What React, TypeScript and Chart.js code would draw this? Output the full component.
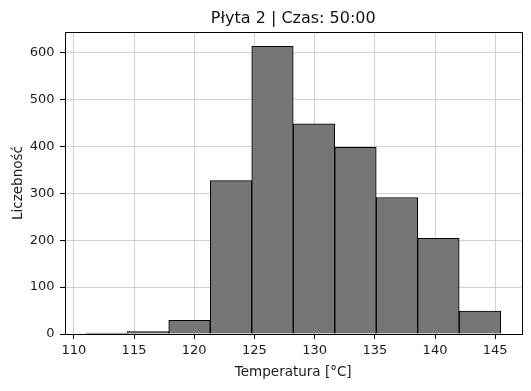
import React, { useEffect, useRef } from "react";
import { Chart, registerables } from "chart.js";

Chart.register(...registerables);

const titleText = "Płyta 2 | Czas: 50:00";
const xLabel = "Temperatura [°C]";
const yLabel = "Liczebność";
const binEdges = [110.99, 114.44, 117.88, 121.33, 124.78, 128.22, 131.67, 135.12, 138.56, 142.01, 145.46];
const counts = [2, 5, 29, 327, 613, 448, 398, 291, 204, 49];
const xTicks = [110, 115, 120, 125, 130, 135, 140, 145];
const yTicks = [0, 100, 200, 300, 400, 500, 600];

const FONT = "'DejaVu Sans', sans-serif";

const framePlugin = {
  id: "frame",
  afterDraw(chart: any) {
    const { ctx, chartArea } = chart;
    ctx.save();
    ctx.strokeStyle = "#000";
    ctx.lineWidth = 1;
    ctx.strokeRect(
      Math.round(chartArea.left) + 0.5,
      Math.round(chartArea.top) + 0.5,
      Math.round(chartArea.right - chartArea.left),
      Math.round(chartArea.bottom - chartArea.top)
    );
    ctx.fillStyle = "#111";
    ctx.font = `16px ${FONT}`;
    ctx.textAlign = "center";
    ctx.textBaseline = "middle";
    ctx.fillText(titleText, (chartArea.left + chartArea.right) / 2, 18.5);
    ctx.restore();
  },
};

export default function App() {
  const ref = useRef<HTMLCanvasElement>(null);
  useEffect(() => {
    const lo = binEdges[0];
    const hi = binEdges[binEdges.length - 1];
    const span = hi - lo;
    const yMax = Math.max(...counts) * 1.05;
    const data = counts.map((c, i) => ({ x: (binEdges[i] + binEdges[i + 1]) / 2, y: c }));
    const chart = new Chart(ref.current as HTMLCanvasElement, {
      type: "bar",
      data: {
        datasets: [
          {
            data: data as any,
            backgroundColor: "rgb(117,119,117)",
            borderColor: "#000",
            borderWidth: 1,
            barPercentage: 1,
            categoryPercentage: 1,
          },
        ],
      },
      options: {
        animation: false,
        responsive: false,
        layout: { padding: { left: 0, right: 9.5, top: 32, bottom: 0 } },
        plugins: {
          legend: { display: false },
          tooltip: { enabled: false },
          title: { display: false },
        },
        scales: {
          x: {
            type: "linear",
            offset: false,
            min: lo - span * 0.05,
            max: hi + span * 0.05,
            afterBuildTicks: (axis: any) => {
              axis.ticks = xTicks.map((v) => ({ value: v }));
            },
            afterFit: (scale: any) => {
              scale.height = 57;
            },
            grid: {
              offset: false,
              color: "#d2d2d2",
              tickColor: "#000",
              tickLength: 5,
              drawOnChartArea: true,
            },
            border: { display: false },
            ticks: {
              color: "#1a1a1a",
              font: { family: FONT, size: 13 },
              padding: 4,
              maxRotation: 0,
              autoSkip: false,
            },
            title: {
              display: true,
              text: xLabel,
              color: "#1a1a1a",
              font: { family: FONT, size: 13.5 },
              padding: { top: 0, bottom: 10 },
            },
          },
          y: {
            min: 0,
            max: yMax,
            afterBuildTicks: (axis: any) => {
              axis.ticks = yTicks.map((v) => ({ value: v }));
            },
            afterFit: (scale: any) => {
              scale.width = 65;
            },
            grid: {
              color: "#d2d2d2",
              tickColor: "#000",
              tickLength: 5,
            },
            border: { display: false },
            ticks: {
              color: "#1a1a1a",
              font: { family: FONT, size: 13 },
              padding: 5.5,
              autoSkip: false,
            },
            title: {
              display: true,
              text: yLabel,
              color: "#1a1a1a",
              font: { family: FONT, size: 13.5 },
              padding: { top: 10.2, bottom: 0 },
            },
          },
        },
      },
      plugins: [framePlugin],
    });
    return () => chart.destroy();
  }, []);
  return (
    <div style={{ position: "fixed", left: 0, top: 0, width: 531, height: 391, background: "#fff" }}>
      <canvas ref={ref} width={531} height={391} style={{ width: 531, height: 391 }} />
    </div>
  );
}
